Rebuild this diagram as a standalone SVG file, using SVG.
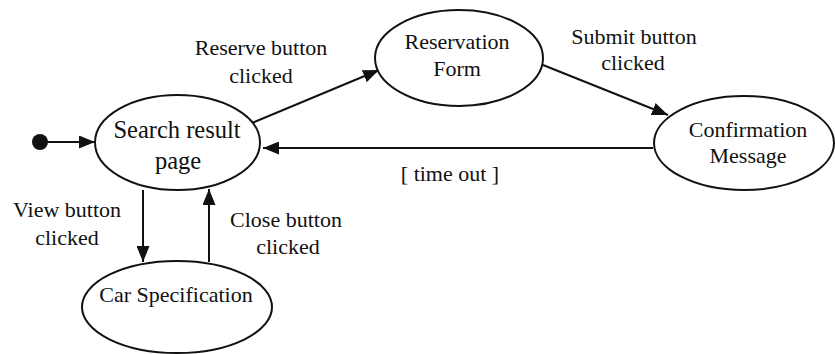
<svg xmlns="http://www.w3.org/2000/svg" width="835" height="354" viewBox="0 0 835 354">
<style>
.node ellipse{fill:#fff;stroke:#111;stroke-width:2}
text{font-family:'Liberation Serif','Times New Roman',Times,Tinos,'DejaVu Serif',serif;font-size:22px;fill:#111;text-anchor:middle}
.edge line{stroke:#111;stroke-width:2;fill:none;marker-end:url(#arr)}
</style>
<defs>
<marker id="arr" markerUnits="userSpaceOnUse" markerWidth="17" markerHeight="13" refX="16" refY="6.5" orient="auto">
<path d="M0,0 L16,6.5 L0,13 z" fill="#111"/>
</marker>
</defs>
<g id="connectors" class="edge">
<line x1="46" y1="142" x2="95" y2="142"/>
<line x1="252" y1="123" x2="379" y2="70"/>
<line x1="543" y1="65" x2="668" y2="115"/>
<line x1="653" y1="148" x2="263" y2="148"/>
<line x1="143" y1="190" x2="143" y2="262"/>
<line x1="209" y1="262" x2="209" y2="189"/>
</g>
<g id="labels">
<text x="261" y="55">Reserve button</text>
<text x="261" y="83">clicked</text>
<text x="634" y="44">Submit button</text>
<text x="633" y="70">clicked</text>
<text x="450" y="181">[ time out ]</text>
<text x="67" y="217">View button</text>
<text x="67" y="245">clicked</text>
<text x="286" y="227">Close button</text>
<text x="288" y="254">clicked</text>
</g>
<g id="initial">
<circle cx="40" cy="142" r="8" fill="#111"/>
</g>
<g id="search" class="node">
<ellipse cx="177.5" cy="142.5" rx="82.5" ry="47.5"/>
<text x="177" y="138" style="font-size:24.5px">Search result</text>
<text x="178" y="169" style="font-size:24.5px">page</text>
</g>
<g id="reservation" class="node">
<ellipse cx="459" cy="58" rx="84" ry="48"/>
<text x="457" y="49">Reservation</text>
<text x="457" y="76">Form</text>
</g>
<g id="confirmation" class="node">
<ellipse cx="744" cy="143" rx="90" ry="47"/>
<text x="748" y="137">Confirmation</text>
<text x="748" y="163">Message</text>
</g>
<g id="carspec" class="node">
<ellipse cx="177" cy="307" rx="95" ry="46"/>
<text x="176" y="302">Car Specification</text>
</g>
</svg>
